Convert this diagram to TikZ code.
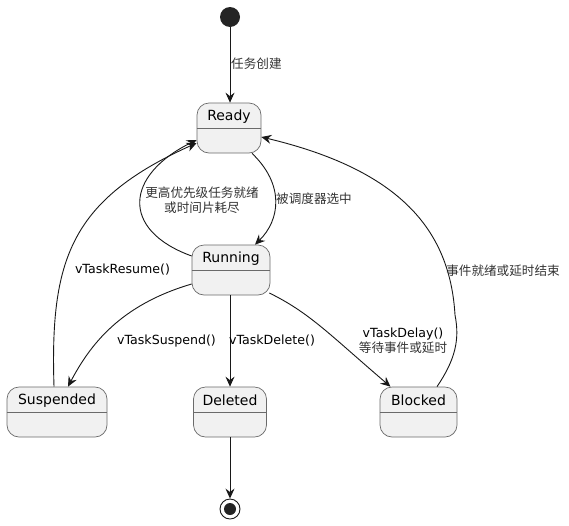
\documentclass[tikz,border=0pt]{standalone}
\usepackage{fontspec}
\setmainfont{DejaVu Sans}
\newfontfamily\cjk{Noto Sans CJK SC}
\usetikzlibrary{arrows.meta}
\definecolor{stfill}{HTML}{F1F1F1}
\definecolor{edge}{HTML}{181818}
\definecolor{stline}{HTML}{6A6A6A}
\tikzset{
  st/.style={draw=stline, fill=stfill, rounded corners=12pt, line width=0.7pt, minimum height=50pt, inner sep=0pt},
  nm/.style={font=\fontsize{14}{16}\selectfont, inner sep=0pt, text=black},
  lb/.style={font=\fontsize{12.6}{14.5}\selectfont, inner sep=0pt, align=center, text=black},
  zh/.style={font=\cjk\fontsize{12.6}{14.5}\selectfont, inner sep=0pt, align=center, text=black!80},
  div/.style={draw=stline, line width=0.7pt},
  arr/.style={draw=edge, line width=0.9pt, -{Stealth[length=10pt,width=9pt,inset=3.5pt]}}
}
\begin{document}
\begin{tikzpicture}[x=1pt,y=-1pt]
\useasboundingbox (0,0) rectangle (569,525);
% start / end
\node[circle, fill=edge!95, minimum size=20pt, inner sep=0pt] (start) at (230,17) {};
\node[circle, draw=edge, line width=0.9pt, fill=white, minimum size=20pt, inner sep=0pt] (endc) at (230,509) {};
\node[circle, fill=edge!95, minimum size=12pt, inner sep=0pt] (endin) at (endc) {};
% states
\node[st, minimum width=64pt] (ready) at (229,128) {};
\node[st, minimum width=78pt] (running) at (231,270) {};
\node[st, minimum width=100pt] (suspended) at (57,412) {};
\node[st, minimum width=73pt] (deleted) at (230,412) {};
\node[st, minimum width=77pt] (blocked) at (418.5,412) {};
% dividers
\foreach \s in {ready,running,suspended,deleted,blocked}{
  \draw[div] ([yshift=-26pt]\s.north west) -- ([yshift=-26pt]\s.north east);
}
% names
\node[nm] (readyL) at (229,116.5) {Ready};
\node[nm] (runningL) at (231,258.5) {Running};
\node[nm] (suspendedL) at (57,400.5) {Suspended};
\node[nm] (deletedL) at (230,400.5) {Deleted};
\node[nm] (blockedL) at (418.5,400.5) {Blocked};
% edges
\draw[arr] (start) -- (start |- ready.north);
\draw[arr] ([xshift=23pt]ready.south) .. controls (285,185) and (280,220) .. ([xshift=24pt]running.north);
\draw[arr] ([yshift=14pt]running.west) .. controls (120,230) and (125,175) .. ([yshift=-12pt]ready.west);
\draw[arr] ([xshift=-3pt]suspended.north) .. controls (50,260) and (70,200) .. ([yshift=-15pt]ready.west);
\draw[arr] ([yshift=-14pt]running.west) .. controls (120,305) and (90,345) .. ([xshift=11pt]suspended.north);
\draw[arr] (deleted.north |- running.south) -- (deleted.north);
\draw[arr] ([shift={(-1pt,-23pt)}]running.east) .. controls (310,313) and (330,335) .. ([xshift=-28pt]blocked.north);
\draw[arr] ([xshift=18.5pt]blocked.north) .. controls (455,360) and (460,340) .. (455,315)
   .. controls (450,230) and (400,170) .. ([yshift=-9pt]ready.east);
\draw[arr] (deleted.south) -- (endc.north);
% labels
\node[zh, anchor=west] (l1) at (231,64) {任务创建};
\node[zh, anchor=west] (l2) at (276,199) {被调度器选中};
\node[zh] (l3) at (202,200) {更高优先级任务就绪\\或时间片耗尽};
\node[lb] (l4) at (122.5,270) {vTaskResume()};
\node[lb] (l5) at (166.5,341) {vTaskSuspend()};
\node[lb] (l6) at (272,341) {vTaskDelete()};
\node[lb] (l7) at (403,341) {vTaskDelay()\\{\cjk\color{black!80}等待事件或延时}};
\node[zh] (l8) at (503,271) {事件就绪或延时结束};
\end{tikzpicture}
\end{document}
